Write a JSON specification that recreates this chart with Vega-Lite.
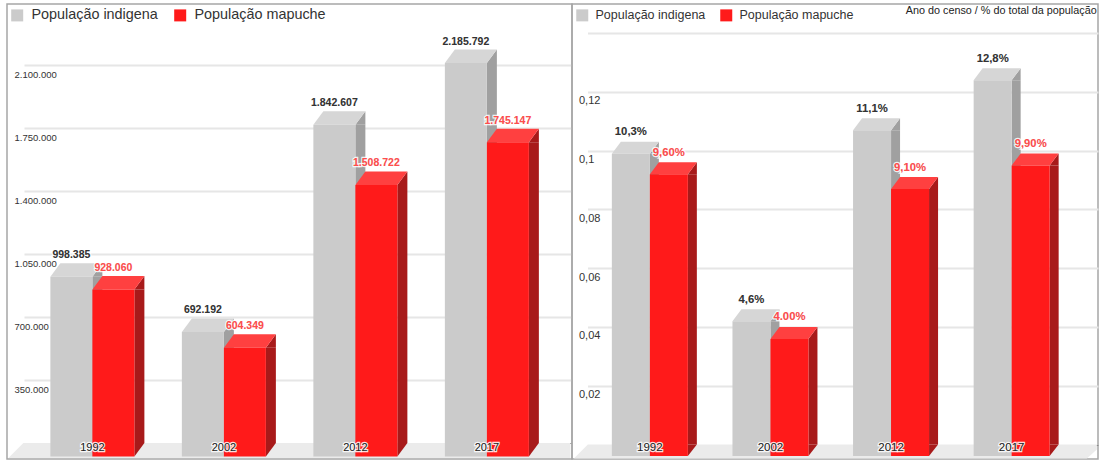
{
"$schema":"https://vega.github.io/schema/vega-lite/v6.json",
"background":"white",
"padding":{"left":6,"top":3,"right":2,"bottom":3},
"spacing":0,
"bounds":"flush",
"resolve":{"scale":{"color":"independent","xOffset":"independent"},"legend":{"color":"independent"}},
"config":{"view":{"stroke":"#a6a6a6","strokeWidth":1.5},"font":"Liberation Sans"},
"hconcat":[
{"width":565,"height":455,
"data":{"values":[
{"ano":"1992","serie":"População indigena","valor":998385,"rotulo":"998.385"},
{"ano":"1992","serie":"População mapuche","valor":928060,"rotulo":"928.060"},
{"ano":"2002","serie":"População indigena","valor":692192,"rotulo":"692.192"},
{"ano":"2002","serie":"População mapuche","valor":604349,"rotulo":"604.349"},
{"ano":"2012","serie":"População indigena","valor":1842607,"rotulo":"1.842.607"},
{"ano":"2012","serie":"População mapuche","valor":1508722,"rotulo":"1.508.722"},
{"ano":"2017","serie":"População indigena","valor":2185792,"rotulo":"2.185.792"},
{"ano":"2017","serie":"População mapuche","valor":1745147,"rotulo":"1.745.147"}]},
"encoding":{
"x":{"field":"ano","type":"nominal","axis":null,"scale":{"range":[17,564],"paddingInner":0.361,"paddingOuter":0.2604,"align":0.385}},
"y":{"field":"valor","type":"quantitative","stack":null,
"scale":{"domain":[0,2438889],"range":[439,0],"nice":false,"zero":false},
"axis":{"title":null,"domain":false,"ticks":false,"grid":true,"values":[0,350000,700000,1050000,1400000,1750000,2100000],
"gridColor":{"condition":{"test":"datum.value===0","value":"#8a8a8a"},"value":"#e6e6e6"},
"gridWidth":{"condition":{"test":"datum.value===0","value":1},"value":2},
"labelAlign":"left","labelBaseline":"middle","labelPadding":-7,"labelOffset":9,"labelFontSize":9.5,"labelColor":"#333333",
"labelExpr":"datum.value===0?'':replace(format(datum.value,','),regexp(',','g'),'.')"}}
},
"layer":[
{"transform":[{"filter":"datum.ano==='1992'&&datum.serie==='População indigena'"}],"mark":{"type":"point","shape":"M-69,0L478,0L478,15L-84,15Z","filled":true,"opacity":1,"size":4,"color":"#ebebeb","strokeWidth":0},"encoding":{"y":{"datum":0}}},
{"transform":[{"filter":"datum.serie==='População indigena'"}],"mark":{"type":"bar","width":10,"xOffset":5,"yOffset":13.5,"color":"#a0a0a0"},"encoding":{"y2":{"datum":0}}},
{"transform":[{"filter":"datum.serie==='População mapuche'"}],"mark":{"type":"bar","width":10,"xOffset":47,"yOffset":13.5,"color":"#a81a1a"},"encoding":{"y2":{"datum":0}}},
{"mark":{"type":"point","shape":"M21,13.5L31,0L31,13.5Z","filled":true,"opacity":1,"size":4,"strokeWidth":0},"encoding":{"xOffset":{"field":"serie"},"color":{"condition":{"test":"datum.serie==='População mapuche'","value":"#a81a1a"},"value":"#a0a0a0"}}},
{"mark":{"type":"point","shape":"M21,0L31,0L21,13.5Z","filled":true,"opacity":1,"size":4,"strokeWidth":0},"encoding":{"xOffset":{"field":"serie"},"y":{"datum":0},"color":{"condition":{"test":"datum.serie==='População mapuche'","value":"#a81a1a"},"value":"#a0a0a0"}}},
{"mark":{"type":"point","shape":"M-21,13.5L-11,0L31,0L21,13.5Z","filled":true,"opacity":1,"size":4,"strokeWidth":0},"encoding":{"xOffset":{"field":"serie"},"color":{"condition":{"test":"datum.serie==='População mapuche'","value":"#ff4040"},"value":"#d6d6d6"}}},
{"mark":{"type":"bar","yOffset":13.5,"y2Offset":13.5},"encoding":{"xOffset":{"field":"serie"},"y2":{"datum":0},
"color":{"field":"serie","type":"nominal","scale":{"range":["#cbcbcb","#ff1a1a"]},
"legend":{"title":null,"orient":"none","legendX":3,"legendY":4,"direction":"horizontal","columns":2,"symbolType":"square","symbolSize":144,"symbolStrokeWidth":0,"labelFontSize":14.4,"labelColor":"#333333","labelOffset":7,"columnPadding":15,"padding":0}}}},
{"mark":{"type":"text","fontWeight":"bold","fontSize":10.5,"dy":-8,"stroke":"white","strokeWidth":2.5,"strokeOpacity":0.85},"encoding":{"xOffset":{"field":"serie"},"text":{"field":"rotulo"}}},
{"mark":{"type":"text","fontWeight":"bold","fontSize":10.5,"dy":-8},"encoding":{"xOffset":{"field":"serie"},"text":{"field":"rotulo"},"color":{"condition":{"test":"datum.serie==='População mapuche'","value":"#ff4d4d"},"value":"#333333"}}},
{"transform":[{"filter":"datum.serie==='População indigena'"}],"mark":{"type":"text","fontSize":11,"dy":5,"stroke":"white","strokeWidth":2.5,"strokeOpacity":0.85},"encoding":{"y":{"datum":0},"text":{"field":"ano"}}},
{"transform":[{"filter":"datum.serie==='População indigena'"}],"mark":{"type":"text","fontSize":11,"dy":5,"color":"#222222"},"encoding":{"y":{"datum":0},"text":{"field":"ano"}}}
]},
{"width":526,"height":455,
"data":{"values":[
{"ano":"1992","serie":"População indigena","valor":0.103,"rotulo":"10,3%"},
{"ano":"1992","serie":"População mapuche","valor":0.096,"rotulo":"9,60%"},
{"ano":"2002","serie":"População indigena","valor":0.046,"rotulo":"4,6%"},
{"ano":"2002","serie":"População mapuche","valor":0.04,"rotulo":"4.00%"},
{"ano":"2012","serie":"População indigena","valor":0.111,"rotulo":"11,1%"},
{"ano":"2012","serie":"População mapuche","valor":0.091,"rotulo":"9,10%"},
{"ano":"2017","serie":"População indigena","valor":0.128,"rotulo":"12,8%"},
{"ano":"2017","serie":"População mapuche","valor":0.099,"rotulo":"9,90%"}]},
"encoding":{
"x":{"field":"ano","type":"nominal","axis":null,"scale":{"range":[15.5,526],"paddingInner":0.3698,"paddingOuter":0.3014,"align":0.335}},
"y":{"field":"valor","type":"quantitative","stack":null,
"scale":{"domain":[0,0.14988],"range":[440.5,0],"nice":false,"zero":false},
"axis":{"title":null,"domain":false,"ticks":false,"grid":true,"values":[0,0.02,0.04,0.06,0.08,0.1,0.12,0.14],
"gridColor":{"condition":{"test":"datum.value===0","value":"#8a8a8a"},"value":"#e6e6e6"},
"gridWidth":{"condition":{"test":"datum.value===0","value":1},"value":2},
"labelAlign":"left","labelBaseline":"middle","labelPadding":-6.5,"labelOffset":9,"labelFontSize":11,"labelColor":"#333333",
"labelExpr":"(datum.value===0||datum.value>0.13)?'':replace(format(datum.value,''),'.',',')"}}
},
"layer":[
{"transform":[{"filter":"datum.ano==='1992'&&datum.serie==='População indigena'"}],"mark":{"type":"point","shape":"M-62,0L447,0L447,5L437,14L-76,14Z","filled":true,"opacity":1,"size":4,"color":"#ebebeb","strokeWidth":0},"encoding":{"y":{"datum":0}}},
{"transform":[{"filter":"datum.serie==='População indigena'"}],"mark":{"type":"bar","width":9,"xOffset":4.5,"yOffset":12,"color":"#a0a0a0"},"encoding":{"y2":{"datum":0}}},
{"transform":[{"filter":"datum.serie==='População mapuche'"}],"mark":{"type":"bar","width":9,"xOffset":42.5,"yOffset":12,"color":"#a81a1a"},"encoding":{"y2":{"datum":0}}},
{"mark":{"type":"point","shape":"M19,12L28,0L28,12Z","filled":true,"opacity":1,"size":4,"strokeWidth":0},"encoding":{"xOffset":{"field":"serie"},"color":{"condition":{"test":"datum.serie==='População mapuche'","value":"#a81a1a"},"value":"#a0a0a0"}}},
{"mark":{"type":"point","shape":"M19,0L28,0L19,11.5Z","filled":true,"opacity":1,"size":4,"strokeWidth":0},"encoding":{"xOffset":{"field":"serie"},"y":{"datum":0},"color":{"condition":{"test":"datum.serie==='População mapuche'","value":"#a81a1a"},"value":"#a0a0a0"}}},
{"mark":{"type":"point","shape":"M-19,12L-10,0L28,0L19,12Z","filled":true,"opacity":1,"size":4,"strokeWidth":0},"encoding":{"xOffset":{"field":"serie"},"color":{"condition":{"test":"datum.serie==='População mapuche'","value":"#ff4040"},"value":"#d6d6d6"}}},
{"mark":{"type":"bar","yOffset":12,"y2Offset":11.5},"encoding":{"xOffset":{"field":"serie"},"y2":{"datum":0},
"color":{"field":"serie","type":"nominal","scale":{"range":["#cbcbcb","#ff1a1a"]},
"legend":{"title":null,"orient":"none","legendX":4,"legendY":5,"direction":"horizontal","columns":2,"symbolType":"square","symbolSize":144,"symbolStrokeWidth":0,"labelFontSize":12.5,"labelColor":"#333333","labelOffset":7,"columnPadding":14,"padding":0}}}},
{"mark":{"type":"text","fontWeight":"bold","fontSize":11.3,"dy":-9.5,"stroke":"white","strokeWidth":2.5,"strokeOpacity":0.85},"encoding":{"xOffset":{"field":"serie"},"text":{"field":"rotulo"}}},
{"mark":{"type":"text","fontWeight":"bold","fontSize":11.3,"dy":-9.5},"encoding":{"xOffset":{"field":"serie"},"text":{"field":"rotulo"},"color":{"condition":{"test":"datum.serie==='População mapuche'","value":"#ff4d4d"},"value":"#333333"}}},
{"transform":[{"filter":"datum.serie==='População indigena'"}],"mark":{"type":"text","fontSize":11.5,"dy":3,"stroke":"white","strokeWidth":2.5,"strokeOpacity":0.85},"encoding":{"y":{"datum":0},"text":{"field":"ano"}}},
{"transform":[{"filter":"datum.serie==='População indigena'"}],"mark":{"type":"text","fontSize":11.5,"dy":3,"color":"#222222"},"encoding":{"y":{"datum":0},"text":{"field":"ano"}}},
{"transform":[{"filter":"datum.ano==='2017'&&datum.serie==='População indigena'"}],"mark":{"type":"text","align":"right","fontSize":10.8,"dx":85,"color":"#222222"},"encoding":{"y":{"datum":0.1475},"text":{"value":"Ano do censo / % do total da população"}}}
]}
]}
